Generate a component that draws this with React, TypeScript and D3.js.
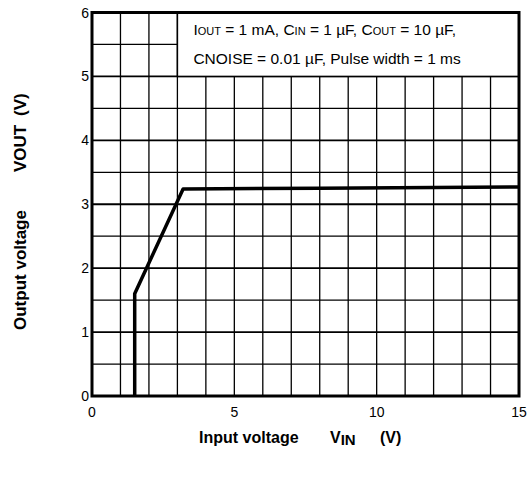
import React, { useEffect, useRef } from "react";
import * as d3 from "d3";

// curve: input voltage vs output voltage
const vin = [1.5, 1.5, 3.2, 8, 15];
const vout = [0, 1.6, 3.24, 3.25, 3.27];
const xTicks = [0, 5, 10, 15];
const yTicks = [0, 1, 2, 3, 4, 5, 6];

const App: React.FC = () => {
  const svgRef = useRef<any>();

  useEffect(() => {
    const width = 529;
    const height = 478;
    const m = { left: 92, right: 10, top: 12.5, bottom: 82 };

    const svg = d3
      .select(svgRef.current)
      .attr("width", width)
      .attr("height", height)
      .style("font-family", "Arial, 'Liberation Sans', sans-serif");
    svg.selectAll("*").remove();

    const x = d3.scaleLinear().domain([0, 15]).range([m.left, width - m.right]);
    const y = d3.scaleLinear().domain([0, 6]).range([height - m.bottom, m.top]);

    const grid = svg.append("g").attr("stroke", "#000");
    grid
      .selectAll("line.v")
      .data(d3.range(1, 15))
      .join("line")
      .attr("x1", (d) => x(d))
      .attr("x2", (d) => x(d))
      .attr("y1", y(0))
      .attr("y2", y(6))
      .attr("stroke-width", 1.3);
    grid
      .selectAll("line.h")
      .data(d3.range(0.5, 6, 0.5))
      .join("line")
      .attr("x1", x(0))
      .attr("x2", x(15))
      .attr("y1", (d) => y(d))
      .attr("y2", (d) => y(d))
      .attr("stroke-width", (d) => (d % 1 === 0 ? 1.8 : 1.3));

    // legend box
    const lg = svg.append("g");
    lg.append("rect")
      .attr("x", x(3))
      .attr("y", y(6))
      .attr("width", x(15) - x(3))
      .attr("height", y(5) - y(6))
      .attr("fill", "#fff")
      .attr("stroke", "#000")
      .attr("stroke-width", 1.5);

    const line1 = lg
      .append("text")
      .attr("x", x(3) + 16)
      .attr("y", 35)
      .attr("font-size", 15.5);
    const parts1: [string, boolean][] = [
      ["I", false], ["OUT", true], [" = 1 mA, C", false], ["IN", true],
      [" = 1 \u00b5F, C", false], ["OUT", true], [" = 10 \u00b5F,", false],
    ];
    parts1.forEach(([t, sub]) =>
      line1.append("tspan").attr("font-size", sub ? 11 : 15.5).text(t)
    );
    lg.append("text")
      .attr("x", x(3) + 16)
      .attr("y", 64)
      .attr("font-size", 15.5)
      .text("CNOISE = 0.01 \u00b5F, Pulse width = 1 ms");

    // frame
    svg
      .append("rect")
      .attr("x", x(0))
      .attr("y", y(6))
      .attr("width", x(15) - x(0))
      .attr("height", y(0) - y(6))
      .attr("fill", "none")
      .attr("stroke", "#000")
      .attr("stroke-width", 3);

    const line = d3
      .line<number>()
      .x((d, i) => x(vin[i]))
      .y((d) => y(d));
    svg
      .append("path")
      .datum(vout)
      .attr("d", line)
      .attr("fill", "none")
      .attr("stroke", "#000")
      .attr("stroke-width", 3.5)
      .attr("stroke-linejoin", "round");

    svg
      .append("g")
      .attr("font-size", 14)
      .attr("text-anchor", "end")
      .selectAll("text")
      .data(yTicks)
      .join("text")
      .attr("x", x(0) - 3)
      .attr("y", (d) => y(d) + 5)
      .text((d) => d);

    svg
      .append("g")
      .attr("font-size", 14)
      .attr("text-anchor", "middle")
      .selectAll("text")
      .data(xTicks)
      .join("text")
      .attr("x", (d) => x(d))
      .attr("y", y(0) + 21)
      .text((d) => d);

    // x axis title
    const xt = svg
      .append("g")
      .attr("font-size", 16)
      .attr("font-weight", "bold");
    xt.append("text").attr("x", 199).attr("y", 443).text("Input voltage");
    const vi = xt.append("text").attr("x", 330).attr("y", 443);
    vi.append("tspan").text("V");
    vi.append("tspan").attr("font-size", 15).attr("dy", 1.5).text("IN");
    xt.append("text").attr("x", 380).attr("y", 443).text("(V)");

    // y axis title
    const yt = svg
      .append("g")
      .attr("font-size", 17)
      .attr("font-weight", "bold");
    yt.append("text")
      .attr("transform", "translate(26, 330) rotate(-90)")
      .text("Output voltage");
    yt.append("text")
      .attr("transform", "translate(26, 172) rotate(-90)")
      .text("VOUT");
    yt.append("text")
      .attr("transform", "translate(26, 116) rotate(-90)")
      .text("(V)");
  }, []);

  return <svg ref={svgRef} style={{ position: "absolute", left: 0, top: 0 }}></svg>;
};

export default App;
